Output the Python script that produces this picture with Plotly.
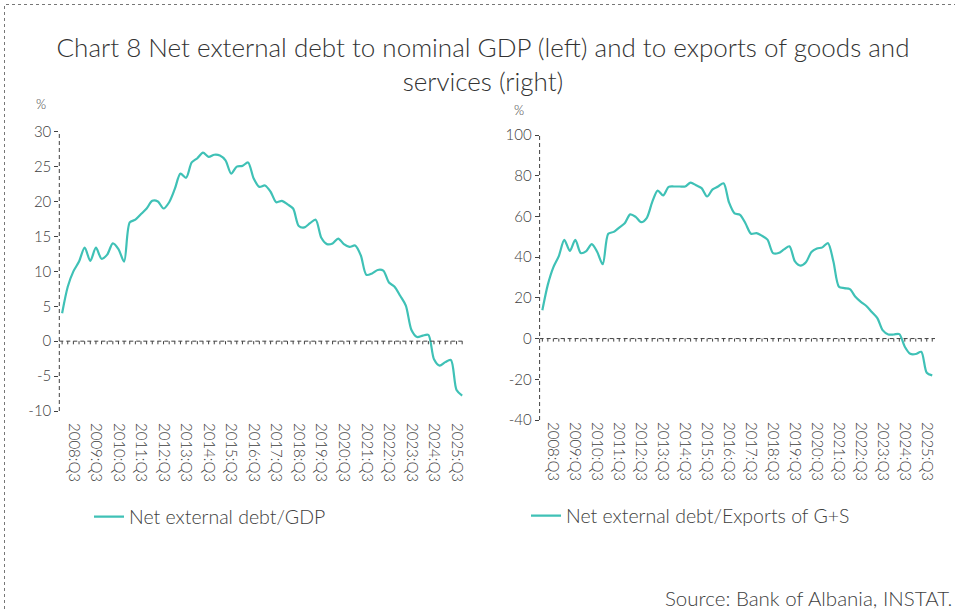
import plotly.graph_objects as go

# ---------------- data ----------------
YEARS = list(range(2008, 2026))
CATEGORIES = [f"{y}:Q{q}" for y in YEARS for q in (1, 2, 3, 4)]  # 2008:Q1 ... 2025:Q4

TICK_LABELS = ["2008:Q3", "2009:Q3", "2010:Q3", "2011:Q3", "2012:Q3", "2013:Q3",
               "2014:Q3", "2015:Q3", "2016:Q3", "2017:Q3", "2018:Q3", "2019:Q3",
               "2020:Q3", "2021:Q3", "2022:Q3", "2023:Q3", "2024:Q3", "2025:Q3"]

DEBT_GDP = [4.0, 7.8, 10.0, 11.4, 13.4, 11.5, 13.4, 11.8, 12.4, 14.0, 13.2, 11.4,
            17.0, 17.4, 18.2, 19.0, 20.1, 20.0, 19.0, 19.9, 21.8, 24.0, 23.4, 25.6,
            26.2, 27.0, 26.4, 26.7, 26.6, 25.9, 24.0, 25.0, 25.1, 25.6, 23.3, 22.1,
            22.3, 21.4, 19.9, 20.1, 19.6, 19.0, 16.5, 16.3, 16.9, 17.4, 14.8, 13.9,
            14.0, 14.7, 13.9, 13.5, 13.7, 12.3, 9.5, 9.7, 10.2, 10.1, 8.4, 7.8,
            6.5, 5.1, 1.6, 0.6, 0.8, 0.9, -2.6, -3.5, -3.0, -2.7, -7.0, -7.8]

DEBT_EXPORTS = [13.9, 26.5, 35.0, 40.5, 48.5, 43.1, 48.5, 42.0, 43.0, 46.4, 42.5, 36.5,
                51.5, 52.4, 54.5, 56.6, 61.0, 59.8, 57.2, 59.2, 67.0, 72.7, 70.3, 74.5,
                74.7, 74.7, 74.7, 76.6, 75.3, 73.9, 69.8, 73.3, 74.7, 76.3, 66.8, 61.5,
                60.8, 56.5, 51.5, 51.8, 50.5, 48.6, 42.0, 42.0, 43.8, 45.3, 37.9, 35.8,
                37.5, 42.5, 44.2, 44.8, 46.9, 37.9, 25.5, 24.8, 24.3, 20.5, 18.0, 16.0,
                13.0, 10.0, 4.0, 2.0, 2.0, 2.2, -4.0, -7.5, -7.6, -6.5, -16.8, -18.1]

Y1_TICKS = [-10, -5, 0, 5, 10, 15, 20, 25, 30]
Y2_TICKS = [-40, -20, 0, 20, 40, 60, 80, 100]

TITLE = "Chart 8 Net external debt to nominal GDP (left) and to exports of goods and<br>services (right)"
SERIES1 = "Net external debt/GDP"
SERIES2 = "Net external debt/Exports of G+S"
SOURCE = "Source: Bank of Albania, INSTAT."

# ---------------- style ----------------
W, H = 955, 610
FONT = "Lato"
TXT = "#404040"
LINE = "#3FC1B6"


def px(x):
    return x / W


def py(y):
    return 1 - y / H


fig = go.Figure()

fig.add_trace(go.Scatter(x=CATEGORIES, y=DEBT_GDP, name=SERIES1, mode="lines",
                         line=dict(color=LINE, width=2.2, shape="spline", smoothing=0.8),
                         xaxis="x", yaxis="y", legend="legend"))
fig.add_trace(go.Scatter(x=CATEGORIES, y=DEBT_EXPORTS, name=SERIES2, mode="lines",
                         line=dict(color=LINE, width=2.2, shape="spline", smoothing=0.8),
                         xaxis="x2", yaxis="y2", legend="legend2"))

# category tick marks on the zero line (drawn as one-sided error bars)
for xa, ya, ln in (("x", "y", 0.45), ("x2", "y2", 1.5)):
    fig.add_trace(go.Scatter(x=CATEGORIES, y=[0] * len(CATEGORIES), mode="markers",
                             marker=dict(size=1, color="rgba(0,0,0,0)"),
                             error_y=dict(type="data", symmetric=False,
                                          array=[0] * len(CATEGORIES),
                                          arrayminus=[ln] * len(CATEGORIES),
                                          color=TXT, thickness=1, width=0),
                             xaxis=xa, yaxis=ya, showlegend=False, hoverinfo="skip"))

xcommon = dict(type="category", categoryorder="array", categoryarray=CATEGORIES,
               range=[-0.5, len(CATEGORIES) - 0.5], tickvals=TICK_LABELS,
               tickangle=90, tickfont=dict(family=FONT, size=15, color=TXT, weight=300),
               showgrid=False, zeroline=False, showline=False, ticks="",
               automargin=False)
ycommon = dict(showgrid=False, zeroline=False, showline=False, ticks="outside",
               ticklen=4, tickwidth=1, tickcolor=TXT, automargin=False,
               tickfont=dict(family=FONT, size=15, color=TXT, weight=300))

fig.update_layout(
    width=W, height=H,
    margin=dict(l=0, r=0, t=0, b=0, pad=0, autoexpand=False),
    paper_bgcolor="white", plot_bgcolor="white",
    font=dict(family=FONT, color=TXT),
    title=dict(text=TITLE, x=px(483), xanchor="center", y=py(57), yanchor="middle",
               xref="paper", yref="paper", automargin=False,
               font=dict(family=FONT, size=26, color="#333333", weight=300)),
    xaxis=dict(domain=[px(59.3), px(465)], anchor="y", ticklabelstandoff=11, **xcommon),
    yaxis=dict(domain=[py(411), py(131.7)], anchor="x", range=[-10, 30],
               tickvals=Y1_TICKS, ticktext=[str(v) for v in Y1_TICKS], **ycommon),
    xaxis2=dict(domain=[px(539.6), px(935)], anchor="y2", ticklabelstandoff=1, **xcommon),
    yaxis2=dict(domain=[py(420), py(135)], anchor="x2", range=[-40, 100],
                tickvals=Y2_TICKS, ticktext=[str(v) for v in Y2_TICKS], **ycommon),
    legend=dict(x=px(89), y=py(517), xanchor="left", yanchor="middle",
                bgcolor="rgba(0,0,0,0)",
                font=dict(family=FONT, size=19.5, color=TXT, weight=300),
                itemwidth=30),
    legend2=dict(x=px(526), y=py(516), xanchor="left", yanchor="middle",
                 bgcolor="rgba(0,0,0,0)",
                 font=dict(family=FONT, size=19.5, color=TXT, weight=300),
                 itemwidth=30),
    annotations=[
        dict(text="%", x=px(41), y=py(104), xref="paper", yref="paper",
             xanchor="center", yanchor="middle",
             showarrow=False, font=dict(family=FONT, size=13, color=TXT, weight=300)),
        dict(text="%", x=px(519), y=py(110), xref="paper", yref="paper",
             xanchor="center", yanchor="middle",
             showarrow=False, font=dict(family=FONT, size=13, color=TXT, weight=300)),
        dict(text=SOURCE, x=px(954), y=py(598), xref="paper", yref="paper",
             xanchor="right", yanchor="middle", showarrow=False,
             font=dict(family=FONT, size=20.5, color=TXT, weight=300)),
    ],
    shapes=[
        # dashed y axes
        dict(type="line", xref="x domain", yref="y domain", x0=0, x1=0, y0=0, y1=1,
             line=dict(color=TXT, width=1, dash="4px,3px")),
        dict(type="line", xref="x2 domain", yref="y2 domain", x0=0, x1=0, y0=0, y1=1,
             line=dict(color=TXT, width=1, dash="4px,3px")),
        # dashed zero lines
        dict(type="line", xref="x domain", yref="y", x0=0, x1=1, y0=0, y1=0,
             line=dict(color=TXT, width=1, dash="4px,3px")),
        dict(type="line", xref="x2 domain", yref="y2", x0=0, x1=1, y0=0, y1=0,
             line=dict(color=TXT, width=1, dash="4px,3px")),
        # dashed outer frame
        dict(type="rect", xref="paper", yref="paper", x0=px(4.5), x1=1.05,
             y0=-0.05, y1=py(4.5), line=dict(color="#777777", width=1, dash="3px,3px")),
    ],
)

fig.write_html("out.html")
